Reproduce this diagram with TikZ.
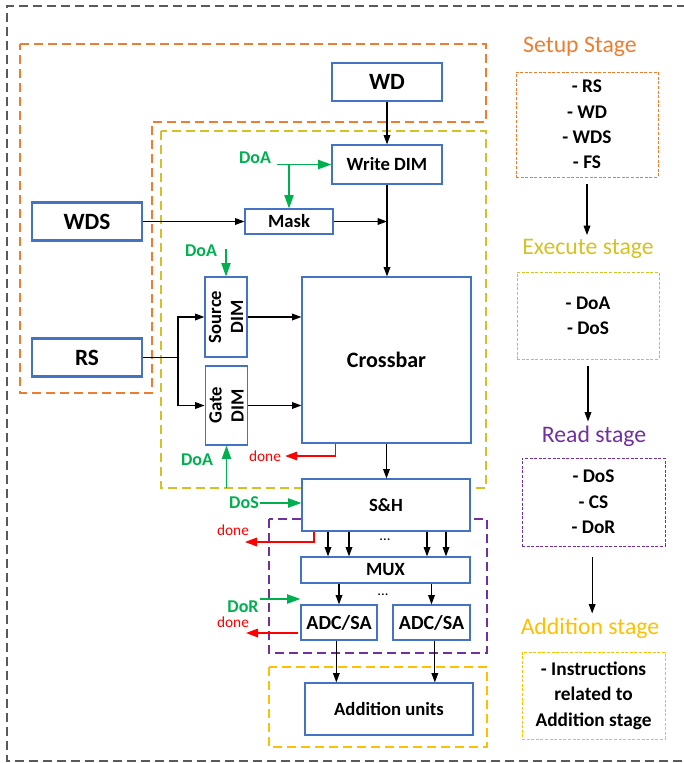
\documentclass[tikz,border=0pt]{standalone}
\usepackage{xcolor}
\usepackage{fontspec}
\setmainfont{Carlito}
\usepackage{tikz}
\usetikzlibrary{arrows.meta}

\definecolor{boxblue}{RGB}{68,114,196}
\definecolor{setuporange}{RGB}{237,125,49}
\definecolor{execyellow}{RGB}{212,194,36}
\definecolor{readpurple}{RGB}{112,48,160}
\definecolor{addgold}{RGB}{255,192,0}
\definecolor{siggreen}{RGB}{0,176,80}
\definecolor{donered}{RGB}{255,0,0}
\definecolor{framegray}{RGB}{90,90,90}

\begin{document}
\begin{tikzpicture}[x=0.75pt,y=0.75pt,yscale=-1,xscale=1,
    unitbox/.style={draw=boxblue,line width=0.9pt,fill=white,inner sep=0pt,font=\bfseries\fontsize{14}{17}\selectfont},
    inputbox/.style={unitbox,line width=2.2pt,minimum width=82.5pt,minimum height=28.5pt,font=\bfseries\fontsize{17.5}{20}\selectfont},
    zone/.style={line width=1.5pt,dash pattern=on 6.75pt off 3.75pt},
    listbox/.style={draw,line width=0.7pt,dash pattern=on 2.25pt off 1.2pt,align=center,inner sep=0pt,font=\bfseries\fontsize{14.5}{19}\selectfont},
    stagetitle/.style={inner sep=0pt,font=\fontsize{17.8}{20}\selectfont},
    blackarrow/.style={-{Triangle[length=7pt,width=5pt]},line width=0.9pt},
    greenarrow/.style={color=siggreen,-{Triangle[length=10pt,width=7pt]},line width=0.9pt},
    redarrow/.style={color=donered,-{Triangle[length=9pt,width=6.5pt]},line width=0.9pt},
    sig/.style={text=siggreen,inner sep=1pt,font=\bfseries\fontsize{13.5}{16}\selectfont},
    donelabel/.style={text=donered,inner sep=1pt,font=\fontsize{11.5}{14}\selectfont}]

    \useasboundingbox (0,0) rectangle (684,763);

    % stage regions
    \draw[zone,framegray,line width=1.1pt] (700,6) -- (7,6) -- (7,761) -- (700,761);
    \draw[zone,setuporange] (20,44) -- (486,44) -- (486,122) -- (152,122) -- (152,393) -- (20,393) -- cycle;
    \draw[zone,execyellow] (161,131) rectangle (486,488);
    \coordinate (execSE) at (486,488);
    \draw[zone,readpurple] (269,519) rectangle (487,653);
    \draw[zone,addgold] (269,667) rectangle (487,747);

    % inputs
    \node[inputbox] (wd) at (387,82) {WD};
    \node[inputbox] (wds) at (87,221.5) {WDS};
    \node[inputbox] (rs) at (87,357.5) {RS};

    % units
    \node[unitbox,minimum width=82.5pt,minimum height=29.25pt] (writeDIM) at (387,164.5) {Write DIM};
    \node[unitbox,minimum width=66pt,minimum height=18.75pt] (mask) at (289,221.5) {Mask};
    \node[unitbox,minimum width=31.5pt,minimum height=60pt] (srcDIM) at (226,317) {};
    \node[rotate=90,align=center,inner sep=0pt,font=\bfseries\fontsize{14}{16.5}\selectfont] (srcDIMtext) at (srcDIM) {Source\\DIM};
    \node[unitbox,minimum width=32pt,minimum height=59.25pt] (gateDIM) at (226.5,405.5) {};
    \node[rotate=90,align=center,inner sep=0pt,font=\bfseries\fontsize{14}{16.5}\selectfont] (gateDIMtext) at (gateDIM) {Gate\\DIM};
    \node[unitbox,minimum width=126.75pt,minimum height=124.5pt,font=\bfseries\fontsize{16.5}{19}\selectfont] (crossbar) at (386.5,360) {Crossbar};
    \node[unitbox,minimum width=126pt,minimum height=39pt] (sh) at (386,505) {S\&H};
    \node[unitbox,minimum width=126.75pt,minimum height=19.5pt] (mux) at (385.5,570) {MUX};
    \node[unitbox,minimum width=57pt,minimum height=26.25pt,font=\bfseries\fontsize{15}{17}\selectfont] (adcA) at (339,622.5) {ADC/SA};
    \node[unitbox,minimum width=57.75pt,minimum height=26.25pt,font=\bfseries\fontsize{15}{17}\selectfont] (adcB) at (431.5,622.5) {ADC/SA};
    \node[unitbox,minimum width=126pt,minimum height=39pt,font=\bfseries\fontsize{14}{16}\selectfont] (addUnits) at (389,709) {Addition units};
    \node[inner sep=0pt,font=\fontsize{11}{12}\selectfont] (dotsSH) at (385,540) {...};
    \node[inner sep=0pt,font=\fontsize{11}{12}\selectfont] (dotsMUX) at (383,595) {...};

    % data path
    \draw[blackarrow] (wd.south) -- (writeDIM.north);
    \draw[blackarrow] (writeDIM.south) -- (writeDIM.south |- crossbar.north);
    \draw[blackarrow] (mask.east) -- (mask.east -| writeDIM.south);
    \draw[blackarrow] (wds.east) -- (wds.east -| mask.west);
    \coordinate (rsFork) at (178,357.5);
    \draw[line width=0.9pt] (rs.east) -- (rsFork);
    \draw[blackarrow] (rsFork) |- (srcDIM.west);
    \draw[blackarrow] (rsFork) |- (gateDIM.west);
    \draw[blackarrow] (srcDIM.east) -- (srcDIM.east -| crossbar.west);
    \draw[blackarrow] (gateDIM.east) -- (gateDIM.east -| crossbar.west);
    \draw[blackarrow] (crossbar.south) -- (crossbar.south |- sh.north);
    \foreach \dx in {-43.5,-27.75,30.75,45}
        \draw[blackarrow] ([xshift=\dx pt]sh.south) -- ([xshift=\dx pt]sh.south |- mux.north);
    \draw[blackarrow] (mux.south -| adcA) -- (adcA.north);
    \draw[blackarrow] (mux.south -| adcB) -- (adcB.north);
    \draw[blackarrow] ([xshift=-2pt]adcA.south) -- ([xshift=-2pt]adcA.south |- addUnits.north);
    \draw[blackarrow] ([xshift=2.5pt]adcB.south) -- ([xshift=2.5pt]adcB.south |- addUnits.north);

    % control signals
    \node[sig] (doaWrite) at (255,158) {DoA};
    \draw[greenarrow] ([xshift=3pt]doaWrite.east |- writeDIM.west) -- (writeDIM.west);
    \draw[greenarrow] (mask.north |- writeDIM.west) -- (mask.north);
    \node[sig] (doaSource) at (201,251) {DoA};
    \draw[greenarrow] ([yshift=4pt]srcDIM.north |- doaSource.north) -- (srcDIM.north);
    \node[sig] (doaGate) at (197,460) {DoA};
    \draw[greenarrow] (gateDIM.south |- execSE) -- (gateDIM.south);
    \node[sig] (dos) at (244,503) {DoS};
    \draw[greenarrow] (dos.east) -- (dos.east -| sh.west);
    \node[sig] (dor) at (243,607) {DoR};
    \draw[greenarrow] ([yshift=-6pt]dor.east) -- ([yshift=-6pt]dor.east -| adcA.west);

    \node[donelabel] (doneXbar) at (265,456) {done};
    \draw[redarrow] ([xshift=-38pt]crossbar.south) |- ([xshift=2pt]doneXbar.east);
    \node[donelabel] (doneSH) at (233,530) {done};
    \coordinate (doneSHtip) at (245,542);
    \draw[redarrow] ([xshift=-54pt]sh.south) |- (doneSHtip);
    \node[donelabel] (doneADC) at (233,622) {done};
    \coordinate (doneADCtip) at (246,633);
    \draw[redarrow] ([xshift=-1.5pt]adcA.west |- doneADCtip) -- (doneADCtip);

    % stage legend
    \node[stagetitle,text=setuporange] (setupTitle) at (580,47) {Setup Stage};
    \node[listbox,draw=setuporange,minimum width=106.5pt,minimum height=78.75pt] (setupList) at (587,124.5) {- RS\\- WD\\- WDS\\- FS};
    \node[stagetitle,text=execyellow] (execTitle) at (588,249) {Execute stage};
    \node[listbox,draw=execyellow,minimum width=106.5pt,minimum height=65.25pt] (execList) at (588,315.5) {- DoA\\- DoS};
    \node[stagetitle,text=readpurple] (readTitle) at (594,436) {Read stage};
    \node[listbox,draw=readpurple,minimum width=107.25pt,minimum height=66pt] (readList) at (593.5,502) {- DoS\\- CS\\- DoR};
    \node[stagetitle,text=addgold] (addTitle) at (590,628) {Addition stage};
    \node[listbox,draw=addgold,minimum width=107.25pt,minimum height=65.25pt] (addList) at (593.5,695.5) {- Instructions\\related to\\Addition stage};

    \draw[blackarrow,shorten <=5pt,shorten >=3pt] (setupList.south) -- (setupList.south |- execTitle.north);
    \draw[blackarrow,shorten <=5pt,shorten >=3pt] (execList.south) -- (execList.south |- readTitle.north);
    \draw[blackarrow,shorten <=8pt,shorten >=3pt] ([xshift=-1pt]readList.south) -- ([xshift=-1pt]readList.south |- addTitle.north);

\end{tikzpicture}
\end{document}
